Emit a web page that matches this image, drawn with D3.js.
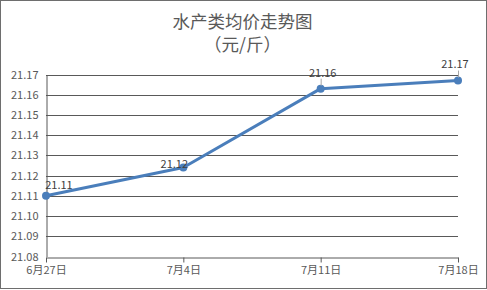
<!DOCTYPE html>
<html><head><meta charset="utf-8">
<script src="https://cdn.jsdelivr.net/npm/d3@7"></script>
<style>body{margin:0;background:#fff}svg{display:block}</style>
</head><body>
<script>
const categories = ["6月27日", "7月4日", "7月11日", "7月18日"];
const values = [21.110, 21.124, 21.163, 21.167];
const valueLabels = ["21.11", "21.12", "21.16", "21.17"];
const yTicks = [21.08, 21.09, 21.10, 21.11, 21.12, 21.13, 21.14, 21.15, 21.16, 21.17];
const titleLines = ["水产类均价走势图", "（元/斤）"];

const W = 487, H = 290;
const font = "'Noto Sans CJK SC', 'Noto Sans', sans-serif";
const svg = d3.select("body").append("svg").attr("width", W).attr("height", H);
svg.append("rect").attr("x", 0.5).attr("y", 0.5).attr("width", W - 1).attr("height", H - 2)
  .attr("fill", "#fff").attr("stroke", "#6e6e6e").attr("stroke-width", 1);

const x = d3.scalePoint().domain(categories).range([46, 458]);
const y = d3.scaleLinear().domain([21.08, 21.17]).range([256.5, 74.5]);

// title
svg.selectAll("text.title").data(titleLines).join("text")
  .attr("class", "title")
  .attr("x", W / 2 - 1).attr("y", (d, i) => 28 + i * 23)
  .attr("text-anchor", "middle").attr("font-family", font)
  .attr("font-size", 17.5).attr("fill", "#595959").text(d => d);

// gridlines
svg.append("g").selectAll("line").data(yTicks.slice(1)).join("line")
  .attr("x1", 46).attr("x2", 458)
  .attr("y1", d => Math.round(y(d)) + 0.5).attr("y2", d => Math.round(y(d)) + 0.5)
  .attr("stroke", "#595959").attr("stroke-width", 1);

// y axis
const yAxis = svg.append("g").attr("transform", "translate(46.5,0)")
  .call(d3.axisLeft(y).tickValues(yTicks).tickFormat(d3.format(".2f")).tickSize(0).tickPadding(8));
yAxis.select(".domain").attr("stroke", "#595959");
yAxis.selectAll("text").attr("font-family", font).attr("font-size", 11).attr("fill", "#595959");

// x axis
const xAxis = svg.append("g").attr("transform", `translate(0,${Math.round(y(21.08)) + 0.5})`)
  .call(d3.axisBottom(x).tickSize(5).tickSizeOuter(0).tickPadding(4));
xAxis.select(".domain").attr("stroke", "#595959");
xAxis.selectAll(".tick line").attr("stroke", "#595959");
xAxis.selectAll("text").attr("font-family", font).attr("font-size", 11).attr("fill", "#595959");

// line
const pts = categories.map((c, i) => [x(c), y(values[i])]);
svg.append("path").datum(pts).attr("d", d3.line())
  .attr("fill", "none").attr("stroke", "#4a7ebb").attr("stroke-width", 3)
  .attr("stroke-linejoin", "round").attr("stroke-linecap", "round");
svg.selectAll("circle.m").data(pts).join("circle")
  .attr("cx", d => d[0]).attr("cy", d => d[1]).attr("r", 4).attr("fill", "#4a7ebb");

// data labels (offsets relative to points)
const offs = [[13, -12], [-9, -5], [2, -17], [-3, -18]];
const leaders = [false, false, true, true];
pts.forEach((p, i) => {
  if (leaders[i]) {
    svg.append("line").attr("x1", p[0] + 0.5).attr("x2", p[0] + 0.5)
      .attr("y1", p[1] - 3).attr("y2", p[1] - 10).attr("stroke", "#a6a6a6").attr("stroke-width", 1);
  }
  svg.append("text").attr("x", p[0] + offs[i][0]).attr("y", p[1] + offs[i][1])
    .attr("text-anchor", "middle").attr("dominant-baseline", "central")
    .attr("font-family", font).attr("font-size", 11).attr("fill", "#404040").text(valueLabels[i]);
});
</script>
</body></html>
